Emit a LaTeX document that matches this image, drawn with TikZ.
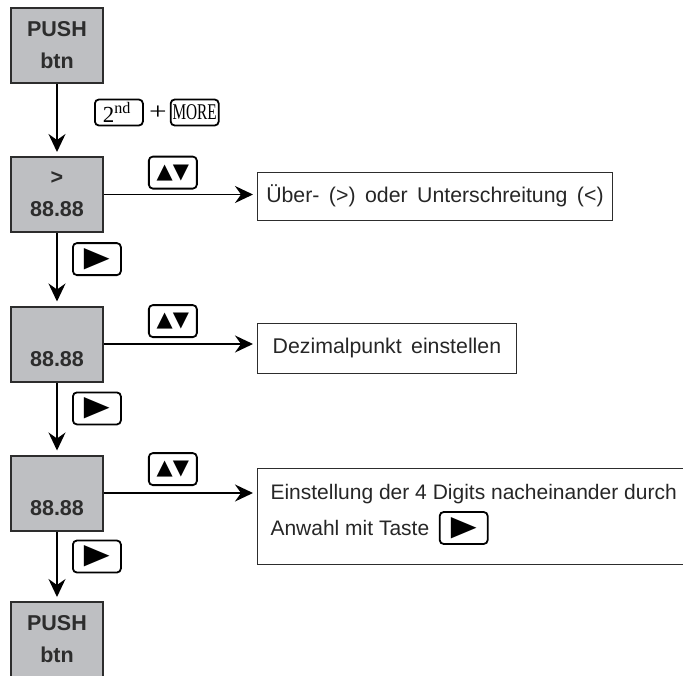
\documentclass[tikz,border=0pt]{standalone}
\usepackage{fontspec}
\setmainfont{Liberation Sans}
\newfontfamily\timesfont{Liberation Serif}
\newfontfamily\symfont{DejaVu Sans}
\usetikzlibrary{arrows.meta,positioning,calc}

\definecolor{boxgrey}{RGB}{190,191,194}
\definecolor{inkgrey}{RGB}{45,45,45}

\tikzset{
  display/.style={draw=inkgrey, line width=2pt, fill=boxgrey, minimum width=92pt,
    minimum height=75pt, inner sep=0pt, align=center, text=inkgrey,
    font=\fontsize{21.5}{32}\selectfont\bfseries},
  tbox/.style={draw=inkgrey, line width=0.9pt, inner sep=0pt, text=black!85,
    font=\fontsize{21.3}{24}\selectfont},
  txt/.style={text=black!85, font=\fontsize{21}{24}\selectfont},
  taste/.style={draw, line width=1.8pt, rounded corners=4pt, minimum width=48pt,
    minimum height=32pt, inner sep=0pt, font=\symfont\fontsize{21}{21}\selectfont},
  playkey/.style={taste, font=\symfont\fontsize{28}{28}\selectfont},
  smalltaste/.style={taste, minimum height=26pt},
  arr/.style={-{Stealth[length=18pt,width=17pt,inset=6pt]}, line width=1.5pt, shorten >=4pt}
}
\newcommand{\nextkey}{\scalebox{1.2}[1]{▶}}

\begin{document}
\begin{tikzpicture}[x=1pt,y=-1pt]
  \useasboundingbox (0,0) rectangle (683,675);
  % Anzeigen
  \node[display] (push1) at (57,45) {PUSH\\btn};
  \node[display] (over) at (57,194.5) {>\\88.88};
  \node[display] (dp) at (57,344) {\vphantom{>}\\88.88};
  \node[display] (digits) at (57,493) {\vphantom{>}\\88.88};
  \node[display] (push2) at (57,639.5) {PUSH\\btn};
  % Beschreibungen
  \node[tbox, anchor=west, minimum width=355pt, minimum height=48pt] (cmp) at (257,196) {Über-\, (>)\, oder\, Unterschreitung\, (<)};
  \node[tbox, anchor=west, minimum width=259pt, minimum height=50pt] (dpt) at (257,348) {Dezimalpunkt\, einstellen};
  \node[tbox, anchor=north west, minimum width=436pt, minimum height=96pt] (dig) at (257,468) {};
  \node[txt, anchor=base west] (dig1) at ($(dig.north west)+(10,31.5)$) {Einstellung der 4 Digits nacheinander durch};
  \node[txt, anchor=base west] (dig2) at ($(dig1.base west)+(0,36)$) {Anwahl mit Taste};
  \node[playkey, right=6pt of dig2] (selkey) {\nextkey};
  % Tasten und Pfeile
  \draw[arr] (push1) -- (over)
    node[pos=0.4, right=37pt, smalltaste, font=\timesfont\fontsize{23}{23}\selectfont] (k2nd) {2\textsuperscript{nd}\,};
  \node[right=5pt of k2nd, inner sep=0pt, font=\timesfont\fontsize{24}{24}\selectfont] (plus) {\scalebox{1.3}[1]{+}};
  \node[smalltaste, right=3pt of plus, font=\timesfont\fontsize{22.5}{22.5}\selectfont] (kmore) {\scalebox{0.68}[1]{MORE}};
  \draw[arr] (over) -- (cmp.west |- over) node[pos=0.45, above=5pt, taste] (kud1) {▲▼};
  \draw[arr] (over) -- (dp) node[pos=0.36, right=15pt, playkey] (knext1) {\nextkey};
  \draw[arr] (dp) -- (dpt.west |- dp) node[pos=0.45, above=6pt, taste] (kud2) {▲▼};
  \draw[arr] (dp) -- (digits) node[pos=0.36, right=15pt, playkey] (knext2) {\nextkey};
  \draw[arr] (digits) -- (dig.west |- digits) node[pos=0.45, above=7pt, taste] (kud3) {▲▼};
  \draw[arr] (digits) -- (push2) node[pos=0.36, right=15pt, playkey] (knext3) {\nextkey};
\end{tikzpicture}
\end{document}
